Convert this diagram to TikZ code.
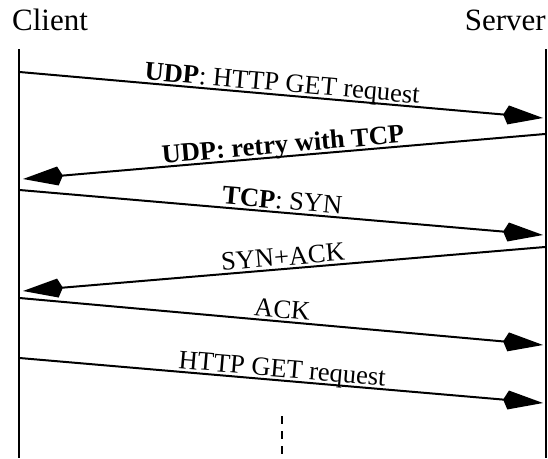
\documentclass[tikz,border=0pt]{standalone}
\usepackage{fontspec}
\setmainfont{Liberation Serif}
\usetikzlibrary{arrows.meta}
\begin{document}
\begin{tikzpicture}[x=1pt,y=-1pt,
  lifeline/.style={line width=2pt},
  msg/.style={line width=2pt, -{Kite[length=40pt,width=19pt,inset=5pt]}},
  msglabel/.style={font=\fontsize{26.5}{30}\selectfont, sloped, anchor=base,
                   inner sep=0pt, yshift=3.5pt, pos=0.5},
  party/.style={font=\fontsize{31}{36}\selectfont, inner sep=0pt},
  pending/.style={line width=2pt, dash pattern=on 8pt off 7pt}]
\useasboundingbox (0,0) rectangle (548,458);

% participants
\node[party, anchor=base west] (client) at (12,30) {Client};
\node[party, anchor=base east] (server) at (546,30) {Server};

% lifelines
\coordinate (ctop) at (18.5,49);
\coordinate (cbot) at (18.5,458);
\coordinate (stop) at (546,49);
\coordinate (sbot) at (546,458);
\draw[lifeline] (ctop) -- (cbot);
\draw[lifeline] (stop) -- (sbot);

% message end points
\coordinate (c1) at (19.5,72);   \coordinate (s1) at (543,118);
\coordinate (s2) at (545,134);   \coordinate (c2) at (23,179);
\coordinate (c3) at (19.5,190);  \coordinate (s3) at (543,235);
\coordinate (s4) at (545,247);   \coordinate (c4) at (23,291);
\coordinate (c5) at (19.5,298);  \coordinate (s5) at (543,345);
\coordinate (c6) at (19.5,358);  \coordinate (s6) at (543,403);

% messages
\draw[msg] (c1) -- node[msglabel] {\textbf{UDP}: HTTP GET request} (s1);
\draw[msg] (s2) -- node[msglabel] {\textbf{UDP: retry with TCP}} (c2);
\draw[msg] (c3) -- node[msglabel] {\textbf{TCP}: SYN} (s3);
\draw[msg] (s4) -- node[msglabel] {SYN+ACK} (c4);
\draw[msg] (c5) -- node[msglabel] {ACK} (s5);
\draw[msg] (c6) -- node[msglabel] {HTTP GET request} (s6);

% further exchange continues
\coordinate (dtop) at (282,416);
\coordinate (dbot) at (282,458);
\draw[pending] (dtop) -- (dbot);
\end{tikzpicture}
\end{document}
